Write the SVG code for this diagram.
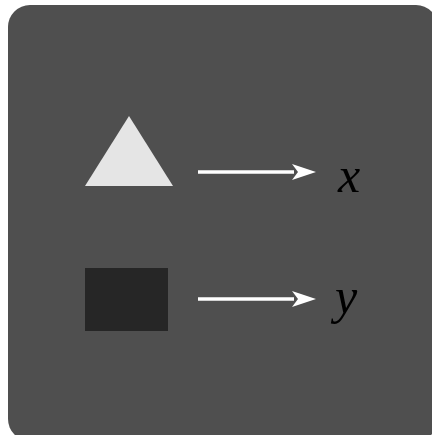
<svg xmlns="http://www.w3.org/2000/svg" width="432" height="435" viewBox="0 0 432 435">
<style>
.lbl{font-family:"Liberation Serif","DejaVu Serif",serif;font-style:italic;font-size:50px;fill:#000}
.conn{stroke:#fff;stroke-width:3.5;fill:none}
</style>
<defs>
<marker id="ah" viewBox="0 0 24 16" refX="2" refY="8" markerWidth="24" markerHeight="16" markerUnits="userSpaceOnUse" orient="auto">
<path d="M0,0 L24,8 L0,16 L6,8 Z" fill="#fff"/>
</marker>
</defs>
<rect x="8" y="5" width="430" height="436" rx="22" fill="#4f4f4f"/>
<g id="triangle"><polygon points="129,116 173,186 85,186" fill="#e5e5e5"/></g>
<g id="square"><rect x="85" y="268" width="83" height="63" fill="#262626"/></g>
<g id="label-x"><text class="lbl" x="338" y="192">x</text></g>
<g id="label-y"><text class="lbl" x="335" y="313">y</text></g>
<g id="connectors">
<line class="conn" x1="198" y1="172" x2="294" y2="172" marker-end="url(#ah)"/>
<line class="conn" x1="198" y1="299" x2="294" y2="299" marker-end="url(#ah)"/>
</g>
</svg>
